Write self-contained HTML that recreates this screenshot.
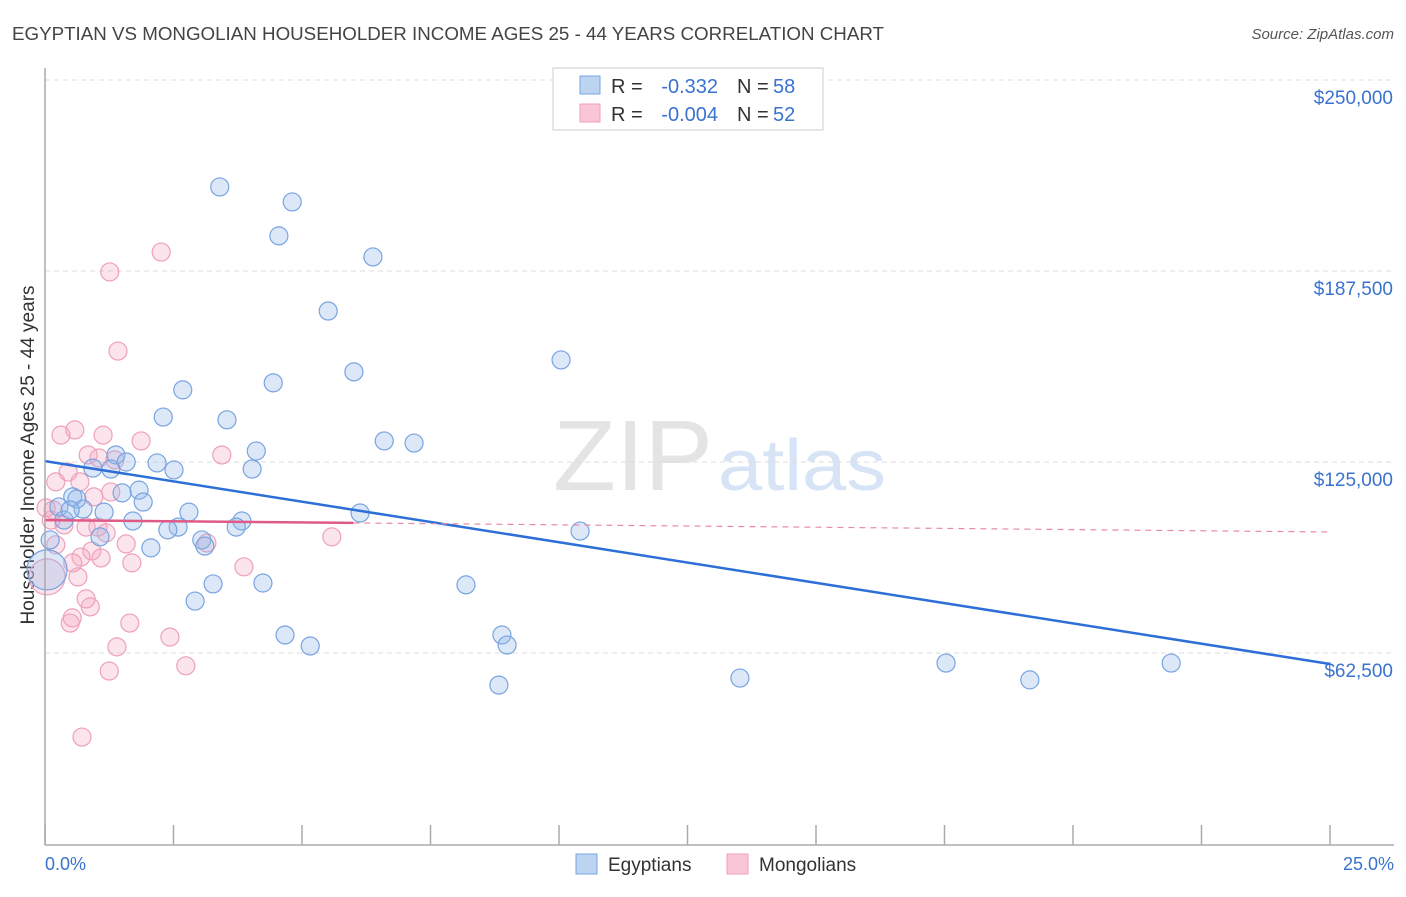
<!DOCTYPE html>
<html><head><meta charset="utf-8"><style>
body{margin:0;background:#fff;font-family:"Liberation Sans",sans-serif}
svg text{font-family:"Liberation Sans",sans-serif}
</style></head><body>
<svg id="c" width="1406" height="892">
<text x="12" y="40" font-size="18" fill="#444" textLength="872" lengthAdjust="spacingAndGlyphs">EGYPTIAN VS MONGOLIAN HOUSEHOLDER INCOME AGES 25 - 44 YEARS CORRELATION CHART</text>
<text x="1394" y="39" font-size="15" fill="#555" font-style="italic" text-anchor="end">Source: ZipAtlas.com</text>
<text x="553" y="490" font-size="100" fill="#e4e4e4" font-family="Liberation Serif" textLength="160" lengthAdjust="spacingAndGlyphs">ZIP</text>
<text x="718" y="490" font-size="72" fill="#d6e4f5" textLength="168" lengthAdjust="spacingAndGlyphs">atlas</text>
<text transform="translate(34,455) rotate(-90)" font-size="19" fill="#333" text-anchor="middle">Householder Income Ages 25 - 44 years</text>
<g id="grid"></g><g id="pts"></g><g id="lines"></g>
<line x1="45" y1="68" x2="45" y2="845" stroke="#aaa" stroke-width="1.5"/>
<line x1="45" y1="845" x2="1394" y2="845" stroke="#aaa" stroke-width="1.5"/>
<text x="45" y="870" font-size="18" fill="#3a72d0">0.0%</text>
<text x="1394" y="870" font-size="18" fill="#3a72d0" text-anchor="end">25.0%</text>
<g>
<rect x="553" y="68" width="270" height="62" fill="#fff" stroke="#ccc"/>
<rect x="580" y="76" width="20" height="18" fill="#bcd3f2" stroke="#7aa6e0"/>
<rect x="580" y="104" width="20" height="18" fill="#f8c6d6" stroke="#f0a0bb"/>
<text x="611" y="93" font-size="20" fill="#333">R =</text>
<text x="718" y="93" font-size="20" fill="#3a72d0" text-anchor="end">-0.332</text>
<text x="737" y="93" font-size="20" fill="#333">N =</text>
<text x="773" y="93" font-size="20" fill="#3a72d0">58</text>
<text x="611" y="121" font-size="20" fill="#333">R =</text>
<text x="718" y="121" font-size="20" fill="#3a72d0" text-anchor="end">-0.004</text>
<text x="737" y="121" font-size="20" fill="#333">N =</text>
<text x="773" y="121" font-size="20" fill="#3a72d0">52</text>
</g>
<g>
<rect x="576" y="854" width="21" height="20" fill="#bcd3f2" stroke="#7aa6e0"/>
<text x="608" y="871" font-size="19" fill="#333">Egyptians</text>
<rect x="727" y="854" width="21" height="20" fill="#f8c6d6" stroke="#f0a0bb"/>
<text x="759" y="871" font-size="19" fill="#333">Mongolians</text>
</g>
</svg>
<script>
const yTicks=[62500,125000,187500,250000];
const yTickLabels=["$62,500","$125,000","$187,500","$250,000"];
const xTicks=[0,2.5,5,7.5,10,12.5,15,17.5,20,22.5,25];
const egyX=[3.40,4.81,4.55,6.38,5.51,10.04,6.01,2.68,4.44,2.30,3.54,6.60,7.18,4.11,1.38,2.18,2.51,1.58,4.03,0.93,1.28,1.83,1.50,0.54,0.62,1.91,2.80,6.13,1.15,0.74,0.27,1.71,3.83,3.72,2.59,2.39,10.41,1.07,2.06,3.05,3.11,0.10,0.04,3.27,4.24,8.19,2.92,4.67,5.16,8.89,8.99,8.83,13.52,17.53,19.16,21.91,0.37,0.49];
const egyY=[215.0,210.1,199.0,192.1,174.4,158.4,154.5,148.6,150.9,139.7,138.8,131.9,131.2,128.6,127.3,124.7,122.4,125.0,122.7,123.0,122.7,115.8,114.9,113.6,112.9,111.9,108.6,108.3,108.6,109.6,110.3,105.7,105.7,103.7,103.7,102.8,102.4,100.5,96.9,99.5,97.5,99.5,89.7,85.1,85.4,84.8,79.5,68.4,64.8,68.4,65.1,52.0,54.3,59.2,53.7,59.2,106.0,109.3];
const monX=[2.26,1.26,1.42,0.58,0.31,1.13,1.87,0.84,1.05,3.44,1.36,0.45,0.21,0.68,0.95,1.28,0.02,0.16,0.12,0.37,0.80,1.03,1.19,5.58,0.21,1.58,3.15,0.91,0.70,1.09,0.54,1.69,3.87,0.64,0.04,0.80,0.88,0.53,0.49,1.65,2.43,1.40,2.74,1.25,0.72];
const monY=[193.7,187.2,161.3,135.5,133.8,133.8,131.9,127.3,126.3,127.3,125.7,121.7,118.5,118.5,113.6,115.2,110.0,109.3,106.0,104.4,103.7,103.7,101.8,100.5,97.9,98.2,98.5,95.9,93.9,93.6,92.0,92.0,90.7,87.4,87.4,80.2,77.6,74.0,72.3,72.3,67.7,64.5,58.3,56.6,35.0];
const egyTrend=[125.3,58.9];
const monTrend=[106.0,102.1];
const X=v=>45+v*51.4;
const Y=k=>80+(250-k)/62.5*191;
const NS="http://www.w3.org/2000/svg";
function mk(t,a,p){const e=document.createElementNS(NS,t);for(const k in a)e.setAttribute(k,a[k]);p.appendChild(e);return e;}
const grid=document.getElementById('grid');
yTicks.forEach((v,i)=>{
 const l=mk('line',{x1:45,x2:1394,y1:Y(v/1000),y2:Y(v/1000),stroke:'#ddd','stroke-dasharray':'5,4'},grid);
 
 
 const t=mk('text',{x:1393,y:Y(v/1000)+24,'font-size':19,fill:'#3a72d0','text-anchor':'end'},grid);
 t.textContent=yTickLabels[i];
 
 
});
xTicks.forEach(v=>{
 const l=mk('line',{x1:X(v),x2:X(v),y1:825,y2:845,stroke:'#aaa','stroke-width':1.5},grid);
 
 
});
const pts=document.getElementById('pts');
monX.forEach((x,i)=>{
 const big=(i===34);
 const c=mk('circle',{cx:X(x),cy:Y(monY[i]),r:big?18:9,fill:'rgba(245,165,192,0.3)',stroke:'#eea0ba','stroke-width':1.2},pts);
 
 
});
egyX.forEach((x,i)=>{
 const big=(i===42);
 const c=mk('circle',{cx:X(x),cy:Y(egyY[i]),r:big?20:9,fill:'rgba(150,185,235,0.33)',stroke:'#78a4e0','stroke-width':1.2},pts);
 
 
});
const lines=document.getElementById('lines');
const b=mk('line',{x1:X(0),y1:Y(egyTrend[0]),x2:X(25),y2:Y(egyTrend[1]),stroke:'#2d6fd6','stroke-width':2.5},lines);


const mAt=x=>monTrend[0]+(monTrend[1]-monTrend[0])*x/25;
const p1=mk('line',{x1:X(0),y1:Y(mAt(0)),x2:X(6),y2:Y(mAt(6)),stroke:'#e05a88','stroke-width':2.5},lines);


const p2=mk('line',{x1:X(6),y1:Y(mAt(6)),x2:X(25),y2:Y(mAt(25)),stroke:'#e88aaa','stroke-width':1.2,'stroke-dasharray':'6,5'},lines);


</script>
</body></html>
